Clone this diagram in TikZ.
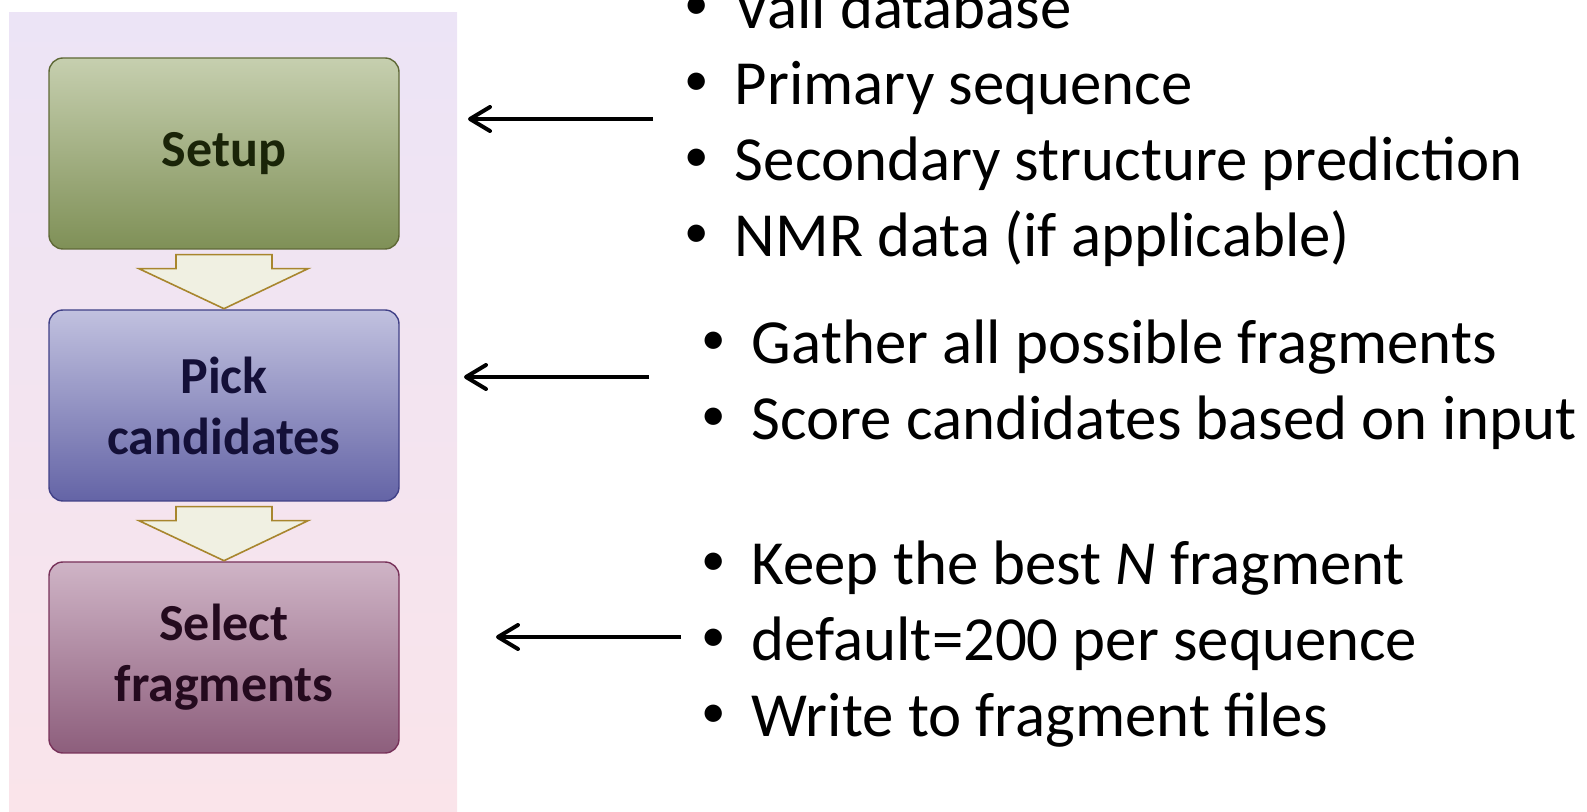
\documentclass[tikz,border=0pt]{standalone}
\usepackage{fontspec}
\setmainfont{Carlito}
\usepackage{xcolor}
\usetikzlibrary{arrows.meta}
\definecolor{paneltop}{RGB}{236,228,246}
\definecolor{panelbot}{RGB}{250,228,234}
\definecolor{setuptop}{RGB}{198,207,175}
\definecolor{setupbot}{RGB}{127,144,87}
\definecolor{setupline}{RGB}{95,105,55}
\definecolor{setupink}{RGB}{26,36,8}
\definecolor{picktop}{RGB}{193,193,223}
\definecolor{pickbot}{RGB}{100,100,166}
\definecolor{pickline}{RGB}{65,65,135}
\definecolor{pickink}{RGB}{20,16,56}
\definecolor{selecttop}{RGB}{207,180,198}
\definecolor{selectbot}{RGB}{141,94,124}
\definecolor{selectline}{RGB}{120,50,90}
\definecolor{selectink}{RGB}{36,10,30}
\definecolor{flowfill}{RGB}{240,240,226}
\definecolor{flowline}{RGB}{168,134,46}
\newcommand{\bul}{\makebox[25pt][l]{\raisebox{4.6pt}{\fontsize{24.5}{24.5}\selectfont\textbullet}}}
\tikzset{
x=0.5pt, y=-0.5pt, % one unit is one pixel of the slide, y runs down
node distance=126pt, % centre to centre of two steps
stepbox/.style={rounded corners=7pt, minimum width=175pt, minimum height=95.5pt, line width=0.7pt, align=center, font=\fontsize{26}{30.5}\selectfont\bfseries}, % the three steps
flow/.style={fill=flowfill, draw=flowline, line width=0.8pt}, % the block arrows between steps
item/.style={anchor=base west, inner sep=0pt, font=\fontsize{31.4}{38}\selectfont}, % one bullet line
feed/.style={line width=2pt, -{Straight Barb[length=10pt,width=12pt,round]}}, % arrows from the lists
}

\begin{document}
\begin{tikzpicture}
            \useasboundingbox (0,0) rectangle (1587,812);
            \fill[top color=paneltop, bottom color=panelbot] (9,13) rectangle (457,812);

            \node[stepbox, top color=setuptop, bottom color=setupbot, draw=setupline, text=setupink] (setup) at (224,153.5) {Setup};
            \node[stepbox, top color=picktop, bottom color=pickbot, draw=pickline, text=pickink, below of=setup] (pick) {Pick\\candidates};
            \node[stepbox, top color=selecttop, bottom color=selectbot, draw=selectline, text=selectink, below of=pick] (select) {Select\\fragments};

            \foreach \a in {setup, pick}
                \draw[flow] ([shift={(-48,5)}]\a.south) -- ([shift={(48,5)}]\a.south) -- ([shift={(48,19)}]\a.south)
                    -- ([shift={(84,19)}]\a.south) -- ([shift={(0,59)}]\a.south) -- ([shift={(-85,19)}]\a.south)
                    -- ([shift={(-48,19)}]\a.south) -- cycle;

            \foreach \txt [count=\i] in {Vall database, Primary sequence, Secondary structure prediction, NMR data (if applicable)}
                \node[item] (input\i) at (684.5,{29+76*(\i-1)}) {\bul\txt};
            \foreach \txt [count=\i] in {Gather all possible fragments, Score candidates based on input}
                \node[item] (gather\i) at (701.5,{364+76*(\i-1)}) {\bul\txt};
            \foreach \txt [count=\i] in {Keep the best \textit{N} fragment, default=200 per sequence, Write to fragment files}
                \node[item] (keep\i) at (701.5,{585+76*(\i-1)}) {\bul\txt};

            \coordinate (from1) at (653,119);
            \coordinate (to1) at (468,119);
            \coordinate (from2) at (649,377);
            \coordinate (to2) at (464,377);
            \coordinate (from3) at (681,637);
            \coordinate (to3) at (496,637);
            \draw[feed] (from1) -- (to1);
            \draw[feed] (from2) -- (to2);
            \draw[feed] (from3) -- (to3);
        \end{tikzpicture}
\end{document}
